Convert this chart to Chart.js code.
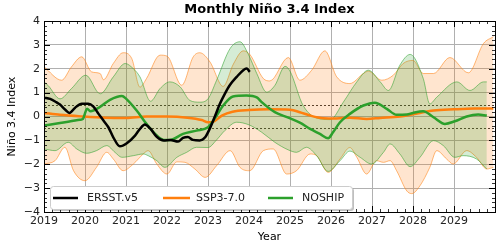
<!DOCTYPE html>
<html>
<head>
<meta charset="utf-8">
<script src="https://cdn.jsdelivr.net/npm/chart.js@4"></script>
<style>
  body { margin: 0; background: #fff; }
</style>
</head>
<body>
<canvas id="ninoChart" width="500" height="245"></canvas>
<script>
// observed index (ERSST.v5)
const ersstYears = [2019.0, 2019.15, 2019.3, 2019.39, 2019.52, 2019.62, 2019.76, 2019.92, 2020.08, 2020.2,
  2020.33, 2020.45, 2020.57, 2020.69, 2020.85, 2021.02, 2021.22, 2021.34, 2021.46, 2021.59,
  2021.75, 2021.92, 2022.08, 2022.27, 2022.39, 2022.51, 2022.63, 2022.8, 2022.93, 2023.04,
  2023.16, 2023.29, 2023.41, 2023.53, 2023.7, 2023.86, 2023.94, 2024.02];
const ersstVals = [0.79, 0.74, 0.6, 0.5, 0.28, 0.15, 0.37, 0.53, 0.53, 0.42,
  0.11, -0.17, -0.45, -0.87, -1.25, -1.12, -0.8, -0.52, -0.34, -0.5,
  -0.85, -1.0, -0.98, -1.05, -0.9, -0.86, -0.98, -1.0, -0.87, -0.52,
  -0.03, 0.53, 0.95, 1.31, 1.66, 1.94, 2.01, 1.87];

// SSP3-7.0 ensemble mean and spread
const sspYears = [2019.0, 2019.39, 2019.95, 2020.5, 2021.0, 2021.5, 2022.0, 2022.5, 2022.85, 2023.0,
  2023.15, 2023.35, 2023.6, 2024.0, 2024.5, 2025.0, 2025.24, 2025.49, 2025.81, 2026.14,
  2026.46, 2026.87, 2027.2, 2027.68, 2028.17, 2028.5, 2029.0, 2029.5, 2029.96];
const sspVals = [0.15, 0.07, 0.0, -0.05, -0.06, 0.0, 0.0, -0.05, -0.15, -0.24,
  -0.2, 0.05, 0.2, 0.27, 0.3, 0.28, 0.18, 0.04, -0.07, -0.08,
  -0.05, -0.1, -0.06, 0.0, 0.15, 0.25, 0.3, 0.33, 0.33];

const sspHiYears = [2019.0, 2019.43, 2019.67, 2019.92, 2020.16, 2020.37, 2020.45, 2020.69, 2020.93, 2021.14,
  2021.34, 2021.5, 2021.83, 2022.0, 2022.36, 2022.64, 2022.8, 2023.05, 2023.37, 2023.62,
  2023.86, 2024.02, 2024.35, 2024.51, 2024.96, 2025.24, 2025.53, 2025.85, 2026.14, 2026.46,
  2026.79, 2026.91, 2027.24, 2027.52, 2027.76, 2028.0, 2028.25, 2028.5, 2028.9, 2029.35,
  2029.72, 2029.96];
const sspHiVals = [2.08, 1.52, 2.08, 2.5, 1.87, 1.8, 1.54, 2.22, 2.67, 2.43,
  1.23, 1.59, 2.57, 2.53, 1.31, 2.5, 2.67, 2.28, 1.26, 2.2,
  2.75, 2.6, 1.59, 1.49, 2.47, 1.52, 1.94, 2.75, 1.66, 1.38,
  1.8, 1.9, 1.52, 1.73, 2.22, 2.35, 1.8, 1.8, 2.47, 1.83,
  3.06, 3.34];

const sspLoYears = [2019.0, 2019.27, 2019.51, 2019.72, 2020.0, 2020.28, 2020.53, 2020.69, 2020.93, 2021.18,
  2021.42, 2021.54, 2021.75, 2022.0, 2022.24, 2022.44, 2022.68, 2022.93, 2023.21, 2023.54,
  2023.78, 2024.02, 2024.35, 2024.59, 2024.92, 2025.16, 2025.49, 2025.65, 2025.93, 2026.22,
  2026.46, 2026.63, 2026.87, 2027.11, 2027.28, 2027.44, 2027.6, 2027.85, 2027.97, 2028.17,
  2028.41, 2028.58, 2028.82, 2028.98, 2029.31, 2029.55, 2029.8, 2029.96];
const sspLoVals = [-1.99, -1.85, -1.29, -2.27, -2.69, -2.13, -1.5, -1.78, -2.27, -1.99,
  -1.57, -1.43, -1.99, -2.41, -1.9, -1.92, -2.2, -2.55, -2.06, -1.43,
  -2.13, -2.27, -1.43, -1.36, -2.41, -2.27, -1.57, -1.64, -2.34, -1.78,
  -1.3, -1.71, -2.41, -1.85, -1.92, -1.85, -2.27, -3.12, -3.23, -2.9,
  -2.13, -1.43, -1.78, -1.99, -1.43, -1.71, -2.2, -2.13];

// NOSHIP ensemble mean and spread
const noshipYears = [2019.0, 2019.39, 2019.88, 2019.95, 2020.05, 2020.14, 2020.33, 2020.61, 2020.9, 2021.0,
  2021.26, 2021.5, 2021.71, 2021.92, 2022.08, 2022.39, 2022.72, 2023.0, 2023.16, 2023.37,
  2023.61, 2023.94, 2024.19, 2024.31, 2024.63, 2024.96, 2025.24, 2025.49, 2025.73, 2025.93,
  2026.05, 2026.22, 2026.46, 2026.79, 2027.07, 2027.36, 2027.6, 2027.85, 2028.0, 2028.25,
  2028.5, 2028.78, 2029.02, 2029.31, 2029.59, 2029.8];
const noshipVals = [-0.38, -0.27, -0.14, -0.1, 0.32, 0.22, 0.36, 0.7, 0.86, 0.75,
  0.25, -0.31, -0.73, -0.98, -0.98, -0.73, -0.59, -0.45, -0.1, 0.46,
  0.84, 0.88, 0.8, 0.6, 0.18, -0.05, -0.26, -0.52, -0.73, -0.91,
  -0.66, -0.24, 0.11, 0.46, 0.58, 0.32, 0.07, 0.08, 0.15, 0.22,
  -0.03, -0.31, -0.2, 0.0, 0.08, 0.04];

const noshipHiYears = [2019.0, 2019.1, 2019.39, 2019.67, 2020.02, 2020.37, 2020.69, 2020.98, 2021.18, 2021.34,
  2021.6, 2021.83, 2022.07, 2022.32, 2022.56, 2022.8, 2023.0, 2023.21, 2023.54, 2023.78,
  2023.98, 2024.19, 2024.43, 2024.63, 2024.88, 2025.0, 2025.32, 2025.73, 2025.98, 2026.3,
  2026.63, 2026.91, 2027.2, 2027.4, 2027.68, 2027.93, 2028.25, 2028.41, 2028.58, 2029.07,
  2029.39, 2029.72, 2029.8];
const noshipHiVals = [1.45, 1.3, 0.74, 1.17, 1.73, 0.95, 1.66, 2.22, 2.0, 1.66,
  0.64, 1.17, 1.45, 1.24, 0.67, 0.6, 0.74, 1.52, 2.85, 3.13,
  2.62, 1.8, 1.02, 1.3, 2.1, 1.9, 0.46, -0.1, -0.13, 0.6,
  1.45, 1.94, 1.45, 1.09, 2.15, 2.6, 1.59, 0.53, 0.81, 1.45,
  1.09, 1.45, 1.45];

const noshipLoYears = [2019.0, 2019.27, 2019.59, 2019.8, 2020.04, 2020.28, 2020.53, 2020.73, 2020.9, 2021.18,
  2021.42, 2021.54, 2021.75, 2021.95, 2022.24, 2022.48, 2022.72, 2023.0, 2023.2, 2023.41,
  2023.7, 2024.0, 2024.31, 2024.63, 2024.96, 2025.16, 2025.4, 2025.65, 2025.93, 2026.22,
  2026.46, 2026.71, 2026.99, 2027.28, 2027.44, 2027.68, 2027.93, 2028.17, 2028.5, 2028.74,
  2029.02, 2029.22, 2029.55, 2029.8];
const noshipLoVals = [-1.36, -1.43, -1.08, -1.36, -1.54, -1.43, -1.22, -1.5, -1.71, -1.64,
  -1.57, -1.64, -1.85, -2.13, -1.71, -1.5, -1.29, -1.3, -1.0, -0.59,
  -0.24, -0.35, -0.66, -1.08, -1.4, -1.5, -1.29, -1.64, -2.3, -1.85,
  -1.45, -1.71, -1.99, -1.5, -1.15, -1.57, -2.1, -1.71, -1.01, -1.22,
  -1.71, -1.64, -1.78, -2.2];

const xTicks = [2019, 2020, 2021, 2022, 2023, 2024, 2025, 2026, 2027, 2028, 2029];
const yTicks = [-4, -3, -2, -1, 0, 1, 2, 3, 4];

const FONT = '"DejaVu Sans", sans-serif';
const ORANGE = '#ff7f0e';
const GREEN = '#2ca02c';

function toPoints(xs, ys) {
  return xs.map((x, i) => ({ x: x, y: ys[i] }));
}

// ticks pointing inward, frame, dotted +-0.5 lines, titles and legend box
const decorations = {
  id: 'decorations',
  beforeDatasetsDraw(chart) {
    const { ctx, chartArea, scales } = chart;
    ctx.save();
    ctx.strokeStyle = '#000';
    ctx.lineWidth = 0.8;
    ctx.setLineDash([2, 2]);
    [0.5, -0.5].forEach(v => {
      const y = Math.round(scales.y.getPixelForValue(v)) + 0.5;
      ctx.beginPath();
      ctx.moveTo(chartArea.left, y);
      ctx.lineTo(chartArea.right, y);
      ctx.stroke();
    });
    ctx.restore();
  },
  afterDraw(chart) {
    const { ctx, chartArea, scales } = chart;
    const { left, right, top, bottom } = chartArea;
    ctx.save();
    ctx.strokeStyle = '#000';

    // x ticks every 0.2 year, major each year
    for (let i = 0; i <= 55; i++) {
      const major = i % 5 === 0;
      const x = Math.round(scales.x.getPixelForValue(2019 + i * 0.2)) + 0.5;
      const len = major ? 6 : 3;
      ctx.lineWidth = major ? 1 : 0.8;
      ctx.beginPath();
      ctx.moveTo(x, bottom); ctx.lineTo(x, bottom - len);
      ctx.moveTo(x, top); ctx.lineTo(x, top + len);
      ctx.stroke();
    }
    // y ticks every 0.2, major each unit
    for (let i = 0; i <= 40; i++) {
      const major = i % 5 === 0;
      const y = Math.round(scales.y.getPixelForValue(-4 + i * 0.2)) + 0.5;
      const len = major ? 6 : 3;
      ctx.lineWidth = major ? 1 : 0.8;
      ctx.beginPath();
      ctx.moveTo(left, y); ctx.lineTo(left + len, y);
      ctx.moveTo(right, y); ctx.lineTo(right - len, y);
      ctx.stroke();
    }

    // frame
    ctx.lineWidth = 1;
    ctx.strokeRect(Math.round(left) + 0.5, Math.round(top) + 0.5,
      Math.round(right - left), Math.round(bottom - top));

    // titles
    ctx.fillStyle = '#000';
    ctx.textAlign = 'center';
    ctx.textBaseline = 'middle';
    ctx.font = 'bold 13px ' + FONT;
    ctx.fillText('Monthly Niño 3.4 Index', (left + right) / 2, 10);
    ctx.font = '11px ' + FONT;
    ctx.fillText('Year', (left + right) / 2, 237);
    ctx.save();
    ctx.translate(12, (top + bottom) / 2);
    ctx.rotate(-Math.PI / 2);
    ctx.fillText('Niño 3.4 Index', 0, 0);
    ctx.restore();

    // legend
    const lx = 50, ly = 186, lw = 302, lh = 23;
    ctx.fillStyle = 'rgba(0,0,0,0.25)';
    ctx.beginPath();
    ctx.roundRect(lx + 2, ly + 2, lw, lh, 3);
    ctx.fill();
    ctx.fillStyle = '#fff';
    ctx.strokeStyle = '#cccccc';
    ctx.lineWidth = 1;
    ctx.beginPath();
    ctx.roundRect(lx + 0.5, ly + 0.5, lw, lh, 3);
    ctx.fill();
    ctx.stroke();

    const items = [
      { label: 'ERSST.v5', color: '#000', x0: 53, x1: 78, tx: 87 },
      { label: 'SSP3-7.0', color: ORANGE, x0: 163, x1: 190, tx: 196 },
      { label: 'NOSHIP', color: GREEN, x0: 268, x1: 293, tx: 302 }
    ];
    const my = ly + lh / 2 + 0.5;
    ctx.font = '11px ' + FONT;
    ctx.textAlign = 'left';
    items.forEach(it => {
      ctx.strokeStyle = it.color;
      ctx.lineWidth = 2.5;
      ctx.beginPath();
      ctx.moveTo(it.x0, my);
      ctx.lineTo(it.x1, my);
      ctx.stroke();
      ctx.fillStyle = '#222';
      ctx.fillText(it.label, it.tx, my + 0.5);
    });
    ctx.restore();
  }
};

const lineDefaults = {
  pointRadius: 0,
  cubicInterpolationMode: 'monotone'
};

new Chart(document.getElementById('ninoChart'), {
  type: 'line',
  data: {
    datasets: [
      { ...lineDefaults, label: 'ERSST.v5', data: toPoints(ersstYears, ersstVals),
        borderColor: '#000', borderWidth: 2.5, fill: false, order: 1 },
      { ...lineDefaults, label: 'NOSHIP', data: toPoints(noshipYears, noshipVals),
        borderColor: GREEN, borderWidth: 2.5, fill: false, order: 2 },
      { ...lineDefaults, label: 'SSP3-7.0', data: toPoints(sspYears, sspVals),
        borderColor: ORANGE, borderWidth: 2.5, fill: false, order: 3 },
      { ...lineDefaults, label: 'ssp hi', data: toPoints(sspHiYears, sspHiVals),
        borderColor: 'rgba(255,127,14,0.55)', borderWidth: 1,
        backgroundColor: 'rgba(255,127,14,0.2)', fill: 4, order: 8 },
      { ...lineDefaults, label: 'ssp lo', data: toPoints(sspLoYears, sspLoVals),
        borderColor: 'rgba(255,127,14,0.55)', borderWidth: 1, fill: false, order: 7 },
      { ...lineDefaults, label: 'noship hi', data: toPoints(noshipHiYears, noshipHiVals),
        borderColor: 'rgba(44,160,44,0.55)', borderWidth: 1,
        backgroundColor: 'rgba(44,160,44,0.2)', fill: 6, order: 6 },
      { ...lineDefaults, label: 'noship lo', data: toPoints(noshipLoYears, noshipLoVals),
        borderColor: 'rgba(44,160,44,0.55)', borderWidth: 1, fill: false, order: 5 }
    ]
  },
  options: {
    responsive: false,
    animation: false,
    devicePixelRatio: 1,
    layout: { padding: { top: 21, right: 5, left: 0, bottom: 0 } },
    plugins: {
      legend: { display: false },
      title: { display: false },
      tooltip: { enabled: false }
    },
    scales: {
      x: {
        type: 'linear',
        min: 2019,
        max: 2030,
        afterBuildTicks: s => { s.ticks = xTicks.map(v => ({ value: v })); },
        afterFit: s => { s.height = 33; },
        ticks: {
          color: '#222',
          font: { family: FONT, size: 11 },
          padding: 3,
          maxRotation: 0,
          autoSkip: false,
          callback: v => String(v)
        },
        grid: { color: '#b0b0b0', lineWidth: 1, drawTicks: false },
        border: { display: false }
      },
      y: {
        min: -4,
        max: 4,
        afterBuildTicks: s => { s.ticks = yTicks.map(v => ({ value: v })); },
        afterFit: s => { s.width = 44; },
        ticks: {
          color: '#222',
          font: { family: FONT, size: 11 },
          padding: 4,
          callback: v => (v < 0 ? '\u2212' + Math.abs(v) : String(v))
        },
        grid: { color: '#b0b0b0', lineWidth: 1, drawTicks: false },
        border: { display: false }
      }
    }
  },
  plugins: [decorations]
});
</script>
</body>
</html>
